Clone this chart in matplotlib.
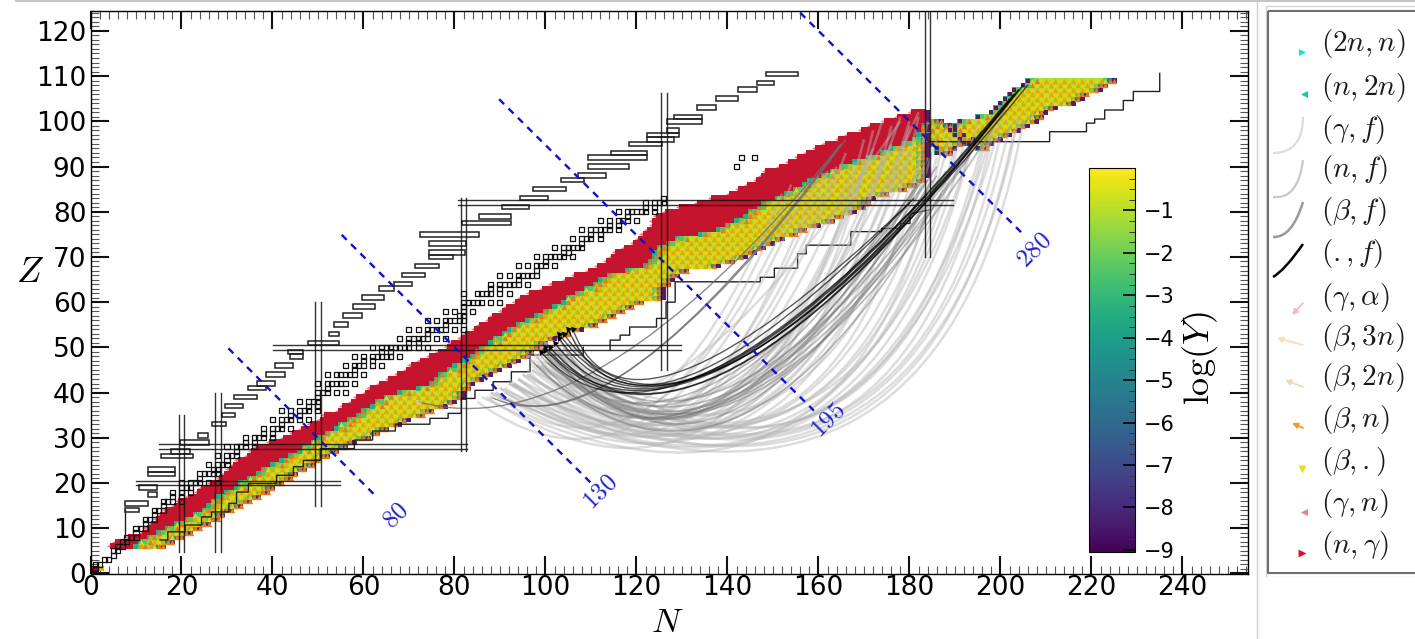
"""Nuclear chart with reaction flows, fission arcs and a log(Y) colorbar."""
import matplotlib

matplotlib.use("Agg")
import matplotlib.pyplot as plt
import numpy as np
from matplotlib.cm import ScalarMappable
from matplotlib.colors import Normalize
from matplotlib.lines import Line2D
from matplotlib.patches import FancyArrowPatch, PathPatch, Rectangle
from matplotlib.path import Path
from matplotlib.ticker import MultipleLocator

plt.rcParams["mathtext.fontset"] = "cm"
W, H = 1415, 639

# band rows, first value is Z=6, last is Z=102
FIRST_Z = 6
red_start = [5, 6, 9, 12, 13, 14, 15, 16, 17, 19,
             20, 22, 24, 25, 27, 29, 30, 31, 32, 33,
             35, 36, 37, 40, 43, 45, 47, 49, 51, 52,
             55, 56, 58, 59, 61, 62, 64, 66, 68, 70,
             71, 73, 75, 77, 79, 80, 82, 83, 85, 86,
             88, 89, 91, 92, 94, 95, 97, 100, 102, 105,
             107, 110, 112, 114, 115, 116, 118, 120, 121, 122,
             123, 124, 124, 125, 127, 130, 134, 137, 141, 143,
             145, 147, 148, 149, 152, 154, 156, 158, 160, 162,
             165, 167, 170, 172, 175, 178, 181]
yellow_start = [10, 11, 13, 15, 17, 19, 21, 23, 25, 26,
                27, 28, 30, 32, 33, 35, 37, 38, 40, 42,
                44, 46, 47, 49, 50, 52, 54, 55, 57, 59,
                60, 62, 63, 65, 68, 72, 75, 76, 77, 79,
                80, 82, 84, 85, 86, 88, 89, 91, 92, 94,
                96, 98, 100, 102, 104, 105, 107, 109, 111, 112,
                114, 118, 122, 123, 124, 124, 125, 127, 129, 134,
                138, 140, 142, 144, 145, 147, 148, 151, 153, 155,
                157, 158, 161, 163, 165, 168, 171, 174, 176, 179,
                181, 182, 183, 183, 184, 184, 184]
neutron_end = [16, 18, 20, 22, 24, 26, 28, 29, 31, 33,
               35, 37, 39, 40, 42, 44, 45, 47, 49, 50,
               52, 54, 56, 58, 61, 63, 65, 68, 70, 73,
               75, 78, 80, 82, 82, 83, 84, 86, 88, 90,
               92, 94, 96, 97, 99, 100, 102, 105, 108, 111,
               113, 115, 117, 119, 121, 126, 126, 126, 127, 128,
               129, 131, 138, 141, 144, 146, 148, 150, 152, 155,
               157, 160, 163, 165, 168, 170, 171, 172, 175, 179,
               181, 183, 184, 184, 184, 184, 184, 184, 184, 184,
               184, 184, 184, 184, 184, 184, 184]

# heavy block past N=184
block_z = [93, 94, 95, 96, 97, 98, 99, 100, 94, 95, 96, 97, 98, 99, 100,
           101, 102, 103, 104, 105, 106, 107, 108, 109]
block_start = [186, 186, 184, 184, 184, 184, 184, 184, 195, 193, 191, 190, 189, 190, 191,
               195, 198, 199, 200, 201, 202, 203, 205, 206]
block_end = [189, 190, 192, 194, 192, 190, 189, 187, 197, 198, 200, 202, 204, 206, 208,
             209, 210, 212, 216, 218, 219, 222, 223, 225]

# logY read along a row: from the red side and from the neutron edge
depth_logy = [-3.4, -2.4, -1.6, -1.0, -0.7, -0.5, -0.4, -0.3]
edge_logy = [-8.0, -5.0, -2.5, -1.0]

# stable nuclides: proton number and neutron numbers
stable_z = list(range(1, 43)) + list(range(44, 61)) + list(range(62, 84)) + [90, 92]
stable_n = [[0, 1], [1, 2], [3, 4], [5], [5, 6], [6, 7], [7, 8], [8, 9, 10], [10], [10, 11, 12],
            [12], [12, 13, 14], [14], [14, 15, 16], [16], [16, 17, 18, 20], [18, 20], [18, 20, 22],
            [20, 21, 22], [20, 22, 23, 24, 26, 28], [24], [24, 25, 26, 27, 28], [27, 28],
            [26, 28, 29, 30], [30], [28, 30, 31, 32], [32], [30, 32, 33, 34, 36], [34, 36],
            [34, 36, 37, 38, 40], [38, 40], [38, 40, 41, 42, 44], [42], [40, 42, 43, 44, 46, 48],
            [44, 46], [42, 44, 46, 47, 48, 50], [48, 50], [46, 48, 49, 50], [50],
            [50, 51, 52, 54, 56], [52], [50, 52, 53, 54, 55, 56, 58],
            [52, 54, 55, 56, 57, 58, 60], [58], [56, 58, 59, 60, 62, 64], [60, 62],
            [58, 60, 62, 63, 64, 65, 66, 68], [64, 66], [62, 64, 65, 66, 67, 68, 69, 70, 72, 74],
            [70, 72], [68, 70, 71, 72, 73, 74, 76, 78], [74], [70, 72, 74, 75, 76, 77, 78, 80, 82],
            [78], [74, 76, 78, 79, 80, 81, 82], [81, 82], [78, 80, 82, 84], [82],
            [82, 83, 84, 85, 86, 88, 90], [82, 85, 86, 87, 88, 90, 92], [88, 90],
            [88, 90, 91, 92, 93, 94, 96], [94], [90, 92, 94, 95, 96, 97, 98], [98],
            [94, 96, 98, 99, 100, 102], [100], [98, 100, 101, 102, 103, 104, 106], [104, 105],
            [102, 104, 105, 106, 107, 108], [108], [106, 108, 109, 110, 112], [110, 112],
            [108, 110, 111, 112, 113, 114, 116], [114, 116], [112, 114, 116, 117, 118, 120], [118],
            [116, 118, 119, 120, 121, 122, 124], [122, 124], [122, 124, 125, 126], [126],
            [142], [143, 146]]

# proton side limit, one thin box per row
limit_z = [110.5, 108.5, 107, 105, 103, 101, 100, 98, 97, 96, 95, 93, 92, 90, 88, 87, 85, 83, 81, 79,
           77.5, 75, 73, 71, 70, 68, 66, 64, 63, 61, 59, 57, 55, 53, 51, 49, 48, 46, 44, 42, 41, 39,
           37, 35, 33, 30.5, 29, 27, 26, 23, 22, 19, 17.5, 15.5, 14]
limit_start = [148.5, 146.4, 142.4, 137.4, 133.4, 128.2, 126.6, 126.6, 122.4, 122.4, 118.3, 114.3,
               109.4, 109.4, 107.2, 103.3, 97.3, 94.4, 90.4, 85.4, 81.6, 72.4, 74.5, 74.5, 74.5,
               71.4, 68.5, 66.6, 63.5, 59.6, 57.6, 55.6, 53.5, 52.5, 47.7, 43.5, 43.9, 40.6, 38.6,
               36.5, 34.7, 31.5, 29.6, 28.8, 26.6, 23.7, 19.7, 17.8, 15.6, 12.7, 12.7, 10.7, 12.7,
               7.6, 7.6]
limit_end = [155.5, 150.2, 146.4, 142.4, 137.4, 134.3, 134.3, 129.3, 129.3, 128.3, 125.6, 122.4,
             122.4, 118.3, 113.4, 108.4, 104.6, 100.6, 96.4, 92.4, 92.4, 85.4, 82.6, 82.3, 79.6,
             76.7, 73.5, 70.6, 66.6, 64.6, 62.5, 59.6, 56.7, 54.7, 54.7, 46.6, 46.6, 44.6, 42.7,
             40.6, 38.6, 36.5, 33.6, 31.8, 29.7, 25.8, 26.0, 21.9, 22.6, 18.6, 18.6, 14.7, 14.7,
             12.7, 10.7]

# neutron side limit, steps with breaks
stair_n = [15.3, 17, 17, 20.8, 20.8, 24.4, 24.4, 26.6, 26.6, 30.4, 30.4, 32.1, 32.1, 34.7, 34.7,
           40.9, 40.9, 44.6, 44.6, 46.8, 46.8, 50.5, 50.5, 58, 58, 62, 62, 67, 67, 74.6, 74.6,
           78.6, 78.6, 81.5, 81.5, 84.5, 84.5, 88.5, 88.5, 92.5, 92.5, 96.6, 96.6, 108.3, 108.3,
           np.nan,
           114.2, 114.2, 116.4, 116.4, 118.5, 118.5, 124.4, 124.4, 126.5, 126.5, 128.5, 128.5,
           147.2, 147.2, 150.3, 150.3, 155.4, 155.4, 157.3, 157.3, 167.1, 167.1, 173.9, 173.9,
           178, 178, 180.1, 180.1, 184.2,
           np.nan,
           184.1, 210.8, 210.8, 218.9, 218.9, 220.7, 220.7, 222.9, 222.9, 227, 227, 229.2, 229.2,
           235, 235]
stair_z = [7.4, 7.4, 9.2, 9.2, 10.7, 10.7, 12.5, 12.5, 13.6, 13.6, 15.5, 15.5, 18, 18, 19.9,
           19.9, 21.7, 21.7, 23.6, 23.6, 25, 25, 27.6, 27.6, 29.5, 29.5, 31.5, 31.5, 33, 33, 34.3,
           34.3, 35.4, 35.4, 38.7, 38.7, 40.5, 40.5, 42.4, 42.4, 44.6, 44.6, 48.3, 48.3, 50,
           np.nan,
           49.4, 51.6, 51.6, 52.7, 52.7, 54.5, 54.5, 56.4, 56.4, 60, 60, 64.5,
           64.5, 65.5, 65.5, 67.5, 67.5, 70.7, 70.7, 72.6, 72.6, 75.6, 75.6, 76.3,
           76.3, 77.4, 77.4, 79.5, 80.4,
           np.nan,
           95.5, 95.5, 97.7, 97.7, 99.6, 99.6, 100.5, 100.5, 102.5, 102.5, 104.6, 104.6, 106.6,
           106.6, 110.6]

# magic numbers, each one is a pair of lines
magic_n = [20, 28, 50, 82, 126, 184]
magic_n_zlow = [4.8, 4.8, 15, 27, 45, 70]
magic_n_zhigh = [35, 40, 60, 83, 106.2, 125]
magic_z = [20, 28, 50, 82]
magic_z_nlow = [10.1, 15.1, 40.2, 80.8]
magic_z_nhigh = [54.8, 82.7, 129.8, 189.6]

# mass number lines
mass_labels = ["80", "130", "195", "280"]
mass_n0 = [30.3, 55.2, 89.8, 156]
mass_z0 = [49.8, 74.9, 104.9, 124]
mass_n1 = [62.5, 110, 159, 205]
mass_z1 = [17.3, 20, 36, 75]
mass_label_n = [67, 112, 162, 207.4]
mass_label_z = [13, 18, 34, 71.5]

# fission arcs: fragment end, control point, fissioning end
light_frag_n = [88, 90, 92, 95, 97, 99, 101, 103, 91, 94, 96, 98, 100, 86, 93,
                89, 92, 95, 97, 99, 102, 104, 90, 94, 96, 100, 103, 106, 85, 88, 92, 98, 101,
                87, 91, 94, 97, 100, 103, 105, 93, 96, 99, 102, 89, 92, 98]
light_frag_z = [40, 41, 42, 44, 45, 46, 47, 49, 40, 43, 44, 46, 48, 39, 42,
                40, 42, 44, 46, 47, 49, 50, 41, 43, 45, 47, 50, 52, 38, 40, 43, 47, 49,
                39, 41, 43, 45, 47, 49, 51, 42, 44, 46, 49, 40, 42, 46]
light_ctrl_n = [186, 184, 183, 180, 180, 176, 175, 172, 170, 168, 167, 165, 165, 168, 162,
                150, 148, 146, 144, 142, 140, 138, 138, 136, 134, 132, 130, 130, 126, 125, 124, 122, 120,
                146, 150, 144, 152, 146, 150, 142, 160, 156, 165, 158, 172, 176, 170]
light_ctrl_z = [-4, -2, -3, -2, 0, -2, 1, 0, 0, 2, -1, 3, 1, -2, 4,
                2, 4, 2, 5, 3, 6, 4, 6, 8, 6, 9, 8, 6, 8, 12, 10, 14, 16,
                0, 3, 6, 2, 8, 4, 10, 0, 3, 2, 6, -2, 0, 4]
light_fiss_n = [205, 204, 203, 202, 200, 198, 197, 196, 194, 192, 191, 190, 189, 187, 186,
                184, 182, 180, 178, 176, 174, 172, 170, 168, 166, 164, 162, 160, 158, 156, 154, 152, 178,
                170, 172, 174, 176, 178, 180, 182, 182, 180, 184, 186, 199, 201, 195]
light_fiss_z = [100, 101, 98, 99, 97, 96, 97, 95, 96, 95, 96, 94, 97, 94, 92,
                92, 90, 93, 91, 95, 92, 94, 90, 91, 93, 90, 89, 88, 87, 85, 86, 84, 100,
                96, 98, 100, 99, 101, 100, 102, 101, 99, 100, 96, 101, 104, 100]

mid_frag_n = [99, 100, 101, 102, 98, 97, 103, 96, 100, 99, 101, 100, 99, 102]
mid_frag_z = [50, 51, 49, 50, 48, 47, 52, 48, 47, 49, 50, 49, 48, 51]
mid_ctrl_n = [132, 132, 134, 136, 130, 134, 126, 140, 144, 128, 138, 140, 142, 136]
mid_ctrl_z = [5, 4, 6, 3, 7, 8, 10, 2, 10, 14, 8, 6, 5, 10]
mid_fiss_n = [186, 185, 184, 186, 183, 186, 182, 187, 188, 184, 198, 200, 203, 196]
mid_fiss_z = [88, 87, 89, 86, 88, 90, 86, 84, 89, 87, 100, 103, 106, 98]

dark_frag_n = [103, 104, 105, 100, 101, 99, 102, 106, 100, 103]
dark_frag_z = [53, 53, 54, 49.4, 50, 49, 51, 54, 50, 52]
dark_ctrl_n = [130, 131, 120, 133, 132, 124, 129, 118, 131, 128]
dark_ctrl_z = [14, 14.5, 19, 14, 13.5, 20, 15, 22, 15, 15]
dark_fiss_n = [204, 205, 181, 203, 204, 184, 203, 180, 206, 202]
dark_fiss_z = [107, 108, 83, 106, 107, 84, 106, 82, 108, 105]

pair_frag_n = [90, 88, 72]
pair_frag_z = [39, 39, 38]
pair_ctrl_n = [114, 115, 110]
pair_ctrl_z = [26.2, 26, 27]
pair_fiss_n = [165, 166, 165]
pair_fiss_z = [95, 96, 95]

# legend column
legend_labels = [r"$(2n,n)$", r"$(n,2n)$", r"$(\gamma,f)$", r"$(n,f)$", r"$(\beta,f)$", r"$(.,f)$",
                 r"$(\gamma,\alpha)$", r"$(\beta,3n)$", r"$(\beta,2n)$", r"$(\beta,n)$",
                 r"$(\beta,.)$", r"$(\gamma,n)$", r"$(n,\gamma)$"]
legend_y = [44, 87, 129, 170, 212, 254, 297, 337, 378, 420, 462, 504, 546]

RED = "#c4142e"
PINK = "#f37a80"


def draw_arcs(ax, frag_n, frag_z, ctrl_n, ctrl_z, fiss_n, fiss_z, **kw):
    codes = [Path.MOVETO, Path.CURVE3, Path.CURVE3]
    for a, b, c, d, e, f in zip(frag_n, frag_z, ctrl_n, ctrl_z, fiss_n, fiss_z):
        ax.add_patch(PathPatch(Path([(a, b), (c, d), (e, f)], codes), fc="none", **kw))


def collect_cells(rows):
    """Sort the band cells into marker groups."""
    cells = {k: [] for k in ["spike", "red", "base", "gold", "lime", "orange", "dark"]}
    for z, rs, ys, ne in rows:
        if rs is not None:
            cells["spike"].append((rs - 0.7, z))
            for n in range(rs, min(ys, ne + 1)):
                cells["red"].append((n, z))
        for n in range(ys, ne + 1):
            depth = n - ys
            edge = ne - n
            logy = min(depth_logy[min(depth, len(depth_logy) - 1)],
                       edge_logy[min(edge, len(edge_logy) - 1)])
            cells["base"].append((n, z, logy))
            if edge == 0 and z > 28 and n % 2 == 0:
                cells["dark"].append((n, z))
            elif rs is None and depth == 0:
                cells["dark"].append((n, z))
            elif edge <= 1 or (depth <= 2 and (n + 2 * z) % 3 == 0):
                cells["orange"].append((n, z))
            elif depth <= 1 and n % 2 == 0:
                continue
            elif (n + z) % 2:
                cells["gold"].append((n, z))
            else:
                cells["lime"].append((n, z))
    return cells


def main():
    fig = plt.figure(figsize=(W / 100, H / 100), dpi=100)
    ax = fig.add_axes([90.5 / W, 1 - 574 / H, (1248 - 90.5) / W, (574 - 11) / H])
    ax.set_xlim(0, 254.4)
    ax.set_ylim(-0.13, 124.4)

    # stable nuclides
    sq_n = [n for ns in stable_n for n in ns]
    sq_z = [z for z, ns in zip(stable_z, stable_n) for _ in ns]

    rows = []
    for i, (rs, ys, ne) in enumerate(zip(red_start, yellow_start, neutron_end)):
        rows.append((FIRST_Z + i, rs, ys, ne))
    rows.extend((z, None, s, e) for z, s, e in zip(block_z, block_start, block_end))
    cells = collect_cells(rows)
    norm = Normalize(-9.05, 0)

    xy = np.array(cells["spike"])
    ax.scatter(xy[:, 0], xy[:, 1], marker="<", s=26, c=PINK, linewidths=0, zorder=2)
    xy = np.array(cells["red"])
    ax.scatter(xy[:, 0], xy[:, 1], marker="s", s=13, c=RED, linewidths=0, zorder=3)
    xy = np.array(cells["base"])
    ax.scatter(xy[:, 0], xy[:, 1], marker="s", s=13, c=xy[:, 2], cmap="viridis", norm=norm,
               linewidths=0, zorder=4)
    xy = np.array(cells["lime"])
    ax.scatter(xy[:, 0], xy[:, 1], marker="^", s=15, c="#e6d412", linewidths=0, zorder=5)
    xy = np.array(cells["gold"])
    ax.scatter(xy[:, 0], xy[:, 1], marker="^", s=16, c="#e3a908", linewidths=0, zorder=5)
    xy = np.array(cells["orange"])
    ax.scatter(xy[:, 0], xy[:, 1], marker="^", s=15, c="#e47c1c", linewidths=0, zorder=5)
    xy = np.array(cells["dark"])
    ax.scatter(xy[:, 0], xy[:, 1], marker="s", s=10, c="#5b1a5e", linewidths=0, zorder=5)

    # tiny spot at the very start of the chart
    ax.scatter([0.5, 1.5, 2.5], [1, 1, 1], marker="s", s=13, c=[RED, "#5b1a5e", "#e8b000"],
               linewidths=0, zorder=4)

    ax.scatter(sq_n, sq_z, marker="s", s=13, facecolors="none", edgecolors="#111111",
               linewidths=0.9, zorder=6)

    for z, a, b in zip(limit_z, limit_start, limit_end):
        ax.add_patch(Rectangle((a, z - 0.5), b - a, 1, fc="none", ec="#222222", lw=1.1, zorder=6))
    ax.plot([7.6, 7.6], [14, 8], color="#222222", lw=1.0, zorder=6)
    ax.plot(stair_n, stair_z, color="#222222", lw=1.0, zorder=6)

    # fission arcs
    draw_arcs(ax, light_frag_n, light_frag_z, light_ctrl_n, light_ctrl_z, light_fiss_n, light_fiss_z,
              ec="#b4b4b4", lw=1.8, alpha=0.45, zorder=7)
    draw_arcs(ax, mid_frag_n, mid_frag_z, mid_ctrl_n, mid_ctrl_z, mid_fiss_n, mid_fiss_z,
              ec="#7a7a7a", lw=1.3, alpha=0.5, zorder=7)
    draw_arcs(ax, pair_frag_n, pair_frag_z, pair_ctrl_n, pair_ctrl_z, pair_fiss_n, pair_fiss_z,
              ec="#6e6e6e", lw=1.0, alpha=0.8, zorder=7)
    draw_arcs(ax, dark_frag_n, dark_frag_z, dark_ctrl_n, dark_ctrl_z, dark_fiss_n, dark_fiss_z,
              ec="black", lw=1.0, alpha=0.65, zorder=8)
    ax.scatter(dark_frag_n, dark_frag_z, marker=(3, 0, 40), s=28, c="black", linewidths=0, zorder=8)
    ax.scatter(mid_frag_n + pair_frag_n, mid_frag_z + pair_frag_z, marker=(3, 0, 40), s=34,
               c="#d8d0c0", alpha=0.6, linewidths=0, zorder=7)

    # magic numbers
    for n, lo, hi in zip(magic_n, magic_n_zlow, magic_n_zhigh):
        for off in (-0.6, 0.6):
            ax.plot([n + off, n + off], [lo, hi], color="#111111", lw=1.0, alpha=0.85, zorder=9)
    for z, lo, hi in zip(magic_z, magic_z_nlow, magic_z_nhigh):
        for off in (-0.55, 0.55):
            ax.plot([lo, hi], [z + off, z + off], color="#111111", lw=1.0, alpha=0.85, zorder=9)

    # mass number lines
    for label, n0, z0, n1, z1, tn, tz in zip(mass_labels, mass_n0, mass_z0, mass_n1, mass_z1,
                                             mass_label_n, mass_label_z):
        ax.plot([n0, n1], [z0, z1], color="#1010d0", lw=1.7, linestyle=(0, (3, 2.6)), zorder=10)
        ax.text(tn, tz, f"${label}$", color="#2222cc", fontsize=18, rotation=45,
                ha="center", va="center", zorder=10)

    ax.xaxis.set_major_locator(MultipleLocator(20))
    ax.xaxis.set_minor_locator(MultipleLocator(2))
    ax.yaxis.set_major_locator(MultipleLocator(10))
    ax.yaxis.set_minor_locator(MultipleLocator(1))
    ax.tick_params(which="both", direction="in", top=True, right=True)
    ax.tick_params(which="major", length=13, width=1.5, labelsize=19, color="#111111")
    ax.tick_params(which="minor", length=6, width=0.8, color="#555555")
    ax.tick_params(axis="x", which="major", pad=1)
    ax.tick_params(axis="y", which="major", pad=3)
    for spine in ax.spines.values():
        spine.set_linewidth(1.0)
        spine.set_zorder(12)

    fig.text(30 / W, 1 - 272 / H, r"$Z$", fontsize=26, ha="center", va="center")
    fig.text(667 / W, 1 - 622 / H, r"$N$", fontsize=25, ha="center", va="center")

    # colorbar sits inside the main axes
    cax = fig.add_axes([1089 / W, 1 - 552 / H, 46 / W, 384 / H], zorder=5)
    cb = fig.colorbar(ScalarMappable(norm=norm, cmap="viridis"), cax=cax)
    cb.set_ticks(list(range(-9, 0)))
    cax.yaxis.set_minor_locator(MultipleLocator(0.25))
    cax.tick_params(which="major", direction="in", length=9, width=1.2, labelsize=15, pad=6)
    cax.tick_params(which="minor", direction="in", length=4.5, width=0.7, color="#333333")
    fig.text(1200 / W, 1 - 358 / H, r"$\log(Y)$", fontsize=26, rotation=90,
             ha="center", va="center", zorder=6)

    # dividers around the pasted legend
    fig.add_artist(Line2D([1256.5 / W] * 2, [0, 1], color="#cfcfcf", lw=1.0))
    fig.add_artist(Line2D([16 / W, 1], [1 - 0.7 / H] * 2, color="#c4c4c4", lw=1.4))

    lax = fig.add_axes([1265 / W, 1 - 577 / H, (W - 1265) / W, 572 / H])
    lax.set_xlim(1265, W)
    lax.set_ylim(577, 5)
    lax.set_xticks([])
    lax.set_yticks([])
    for side in ("top", "right", "bottom", "left"):
        lax.spines[side].set_visible(False)
    lax.add_patch(Rectangle((1265.5, 5.5), 200, 571, fc="none", ec="#d4d4d4", lw=0.9))
    lax.add_patch(Rectangle((1267.5, 10.5), 200, 562, fc="none", ec="#6f6f6f", lw=1.5))

    for label, y in zip(legend_labels, legend_y):
        lax.text(1321, y, label, fontsize=21, ha="left", va="center", color="#1a1a1a")

    lax.scatter([1302], [52], marker=">", s=26, c="#28d8e0", linewidths=0)
    lax.scatter([1304], [94], marker="<", s=26, c="#18c4b4", linewidths=0)
    lax.scatter([1302], [469], marker="v", s=32, c="#f2d62a", linewidths=0)
    lax.scatter([1304], [512], marker="<", s=26, c=PINK, linewidths=0)
    lax.scatter([1302], [553], marker=">", s=32, c="#d8102a", linewidths=0)

    # curved samples for the fission entries
    samples = [(1273, 153, 1303, 153, 1303, 117, "#dcdcdc", 1.6),
               (1273, 197, 1298, 200, 1303, 160, "#c8c8c8", 1.6),
               (1273, 237, 1292, 238, 1303, 202, "#9a9a9a", 1.8),
               (1273, 277, 1285, 270, 1303, 244, "black", 1.8)]
    for x0, y0, xc, yc, x1, y1, col, lw in samples:
        lax.add_patch(PathPatch(Path([(x0, y0), (xc, yc), (x1, y1)],
                                     [Path.MOVETO, Path.CURVE3, Path.CURVE3]),
                                fc="none", ec=col, lw=lw))

    arrows = [(1303, 303, 1292, 315, "#f8b4c8"), (1303, 345, 1277, 338, "#fbdcb4"),
              (1303, 387, 1285, 380, "#ecd9b9"), (1303, 428, 1292, 423, "#f59a23")]
    for x0, y0, x1, y1, col in arrows:
        lax.add_patch(FancyArrowPatch((x0, y0), (x1, y1), arrowstyle="-|>", mutation_scale=8,
                                      color=col, lw=1.3, shrinkA=0, shrinkB=0))

    fig.savefig("out.png", dpi=100)


if __name__ == "__main__":
    main()
